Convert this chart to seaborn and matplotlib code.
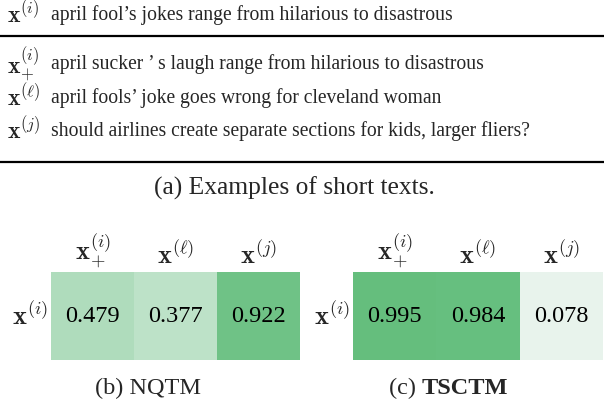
import matplotlib
matplotlib.use("Agg")
import matplotlib.pyplot as plt
import seaborn as sns
import numpy as np
import pandas as pd
from matplotlib.colors import LinearSegmentedColormap
from matplotlib.lines import Line2D

sns.set_theme(style="white")
plt.rcParams['font.family'] = ['Liberation Serif', 'DejaVu Serif']
plt.rcParams['mathtext.fontset'] = 'cm'

# ---- data ----
row_labels_text = [r"$\mathbf{x}^{(i)}$", r"$\mathbf{x}_{+}^{(i)}$",
                   r"$\mathbf{x}^{(\ell)}$", r"$\mathbf{x}^{(j)}$"]
texts = ["april fool\u2019s jokes range from hilarious to disastrous",
         "april sucker \u2019 s laugh range from hilarious to disastrous",
         "april fools\u2019 joke goes wrong for cleveland woman",
         "should airlines create separate sections for kids, larger fliers?"]
col_labels = [r"$\mathbf{x}_{+}^{(i)}$", r"$\mathbf{x}^{(\ell)}$", r"$\mathbf{x}^{(j)}$"]
row_label = [r"$\mathbf{x}^{(i)}$"]
nqtm_values = [0.479, 0.377, 0.922]
tsctm_values = [0.995, 0.984, 0.078]

cmap = LinearSegmentedColormap.from_list("g", ["#f3f7f5", "#64be7d"])

fig = plt.figure(figsize=(6.04, 4.0), dpi=100)

def fy(px):
    return 1 - px / 400.0

# text table
ys = [15, 64, 98, 131]
for lab, t, y in zip(row_labels_text, texts, ys):
    fig.text(7 / 604, fy(y), lab, fontsize=17, va='center', ha='left')
    fig.text(51 / 604, fy(y), t, fontsize=14.1, va='center', ha='left')
for y, lw in [(36, 1.6), (162, 1.6)]:
    fig.add_artist(Line2D([0, 1], [fy(y), fy(y)], color='black', lw=lw,
                          transform=fig.transFigure))
fig.text(294 / 604, fy(188), "(a) Examples of short texts.", fontsize=18.4,
         ha='center', va='center')

def draw(ax, vals):
    df = pd.DataFrame([vals], index=row_label, columns=col_labels)
    sns.heatmap(df, ax=ax, cmap=cmap, vmin=0, vmax=1, cbar=False,
                annot=True, fmt=".3f", annot_kws={"fontsize": 17.5, "color": "black"})
    ax.xaxis.tick_top()
    ax.tick_params(axis='both', length=0)
    ax.tick_params(axis='x', pad=2, labelsize=19)
    ax.tick_params(axis='y', pad=2, labelsize=19)
    ax.set_yticklabels(ax.get_yticklabels(), rotation=0, va='center')
    ax.set_xlabel("")
    ax.set_ylabel("")

ax1 = fig.add_axes([51 / 604, fy(360), (300 - 51) / 604, 88 / 400])
draw(ax1, nqtm_values)
ax2 = fig.add_axes([353 / 604, fy(360), (603 - 353) / 604, 88 / 400])
draw(ax2, tsctm_values)

fig.text(148 / 604, fy(388), "(b) NQTM", fontsize=17.5, ha='center', va='center')
fig.text(422 / 604, fy(388), "(c) ", fontsize=17.5, ha='right', va='center')
fig.text(422 / 604, fy(388), "TSCTM", fontsize=17.5, ha='left', va='center',
         fontweight='bold')

fig.savefig("out.png", dpi=100)
